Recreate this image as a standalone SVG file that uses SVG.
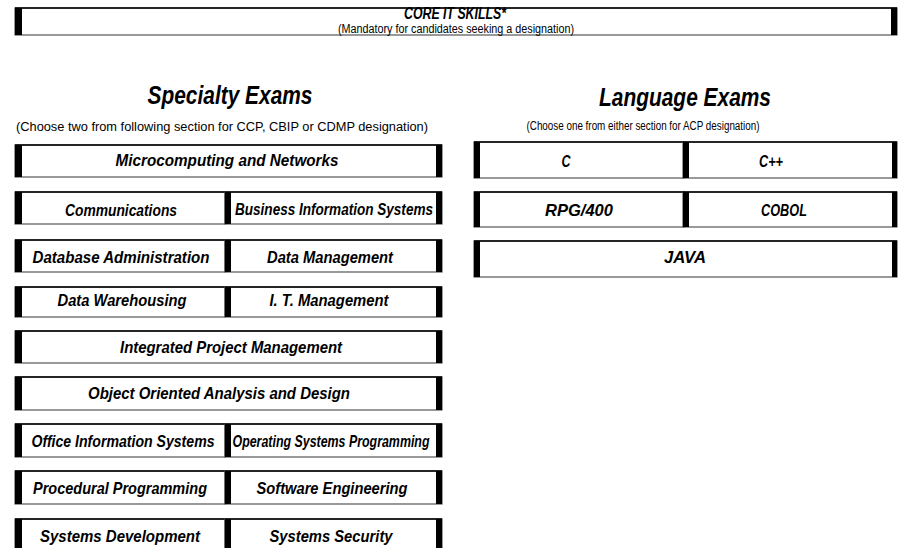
<svg xmlns="http://www.w3.org/2000/svg" width="900" height="548" viewBox="0 0 900 548">
<style>
.box{fill:#fff;stroke:#555;stroke-width:1.2}
.top{stroke:#000;stroke-width:1.4}
.bar{fill:#000}
.lbl{font-family:"Liberation Sans",Arial,sans-serif;font-weight:bold;font-style:italic;font-size:17px;fill:#000;text-anchor:middle}
.head{font-family:"Liberation Sans",Arial,sans-serif;font-weight:bold;font-style:italic;font-size:26px;fill:#000;text-anchor:middle}
.sub{font-family:"Liberation Sans",Arial,sans-serif;font-size:12.5px;fill:#000;text-anchor:middle}
</style>
<rect width="900" height="548" fill="#fff"/>

<g id="core">
<rect class="box" x="15" y="8" width="882" height="27"/>
<line class="top" x1="15" y1="8" x2="897" y2="8"/>
<rect class="bar" x="15" y="8" width="7" height="27"/>
<rect class="bar" x="891" y="8" width="6" height="27"/>
<text class="lbl" x="455" y="19" font-size="12.5" textLength="102" lengthAdjust="spacingAndGlyphs">CORE IT SKILLS*</text>
<text class="sub" x="456" y="32.5" font-size="10" textLength="236" lengthAdjust="spacingAndGlyphs">(Mandatory for candidates seeking a designation)</text>
</g>

<g id="specialty-header">
<text class="head" x="230" y="104" textLength="165" lengthAdjust="spacingAndGlyphs">Specialty Exams</text>
<text class="sub" x="222" y="131" textLength="412" lengthAdjust="spacingAndGlyphs">(Choose two from following section for CCP, CBIP or CDMP designation)</text>
</g>

<g id="language-header">
<text class="head" x="685" y="106" textLength="172" lengthAdjust="spacingAndGlyphs">Language Exams</text>
<text class="sub" x="643" y="130" textLength="233" lengthAdjust="spacingAndGlyphs">(Choose one from either section for ACP designation)</text>
</g>

<!-- Left column -->
<g id="microcomputing">
<rect class="box" x="15" y="145" width="427" height="32"/>
<line class="top" x1="15" y1="145" x2="442" y2="145"/>
<rect class="bar" x="15" y="145" width="7" height="32"/>
<rect class="bar" x="436" y="145" width="6" height="32"/>
<text class="lbl" x="227" y="166" textLength="223" lengthAdjust="spacingAndGlyphs">Microcomputing and Networks</text>
</g>

<g id="communications">
<rect class="box" x="15" y="192" width="210" height="32"/>
<line class="top" x1="15" y1="192" x2="225" y2="192"/>
<rect class="bar" x="15" y="192" width="7" height="32"/>
<text class="lbl" x="121" y="216" textLength="112" lengthAdjust="spacingAndGlyphs">Communications</text>
</g>
<g id="business-information-systems">
<rect class="box" x="225" y="192" width="217" height="32"/>
<line class="top" x1="225" y1="192" x2="442" y2="192"/>
<rect class="bar" x="225" y="192" width="6" height="32"/>
<rect class="bar" x="436" y="192" width="6" height="32"/>
<text class="lbl" x="334" y="215" textLength="198" lengthAdjust="spacingAndGlyphs">Business Information Systems</text>
</g>

<g id="database-administration">
<rect class="box" x="15" y="240" width="210" height="32"/>
<line class="top" x1="15" y1="240" x2="225" y2="240"/>
<rect class="bar" x="15" y="240" width="7" height="32"/>
<text class="lbl" x="121" y="263" textLength="177" lengthAdjust="spacingAndGlyphs">Database Administration</text>
</g>
<g id="data-management">
<rect class="box" x="225" y="240" width="217" height="32"/>
<line class="top" x1="225" y1="240" x2="442" y2="240"/>
<rect class="bar" x="225" y="240" width="6" height="32"/>
<rect class="bar" x="436" y="240" width="6" height="32"/>
<text class="lbl" x="330" y="263" textLength="126" lengthAdjust="spacingAndGlyphs">Data Management</text>
</g>

<g id="data-warehousing">
<rect class="box" x="15" y="287" width="210" height="30"/>
<line class="top" x1="15" y1="287" x2="225" y2="287"/>
<rect class="bar" x="15" y="287" width="7" height="30"/>
<text class="lbl" x="122" y="306" textLength="129" lengthAdjust="spacingAndGlyphs">Data Warehousing</text>
</g>
<g id="it-management">
<rect class="box" x="225" y="287" width="217" height="30"/>
<line class="top" x1="225" y1="287" x2="442" y2="287"/>
<rect class="bar" x="225" y="287" width="6" height="30"/>
<rect class="bar" x="436" y="287" width="6" height="30"/>
<text class="lbl" x="329" y="306" textLength="119" lengthAdjust="spacingAndGlyphs">I. T. Management</text>
</g>

<g id="integrated-project-management">
<rect class="box" x="15" y="331" width="427" height="32"/>
<line class="top" x1="15" y1="331" x2="442" y2="331"/>
<rect class="bar" x="15" y="331" width="7" height="32"/>
<rect class="bar" x="436" y="331" width="6" height="32"/>
<text class="lbl" x="231" y="353" textLength="222" lengthAdjust="spacingAndGlyphs">Integrated Project Management</text>
</g>

<g id="object-oriented-analysis">
<rect class="box" x="15" y="377" width="427" height="33"/>
<line class="top" x1="15" y1="377" x2="442" y2="377"/>
<rect class="bar" x="15" y="377" width="7" height="33"/>
<rect class="bar" x="436" y="377" width="6" height="33"/>
<text class="lbl" x="219" y="399" textLength="262" lengthAdjust="spacingAndGlyphs">Object Oriented Analysis and Design</text>
</g>

<g id="office-information-systems">
<rect class="box" x="15" y="424" width="210" height="33"/>
<line class="top" x1="15" y1="424" x2="225" y2="424"/>
<rect class="bar" x="15" y="424" width="7" height="33"/>
<text class="lbl" x="123" y="447" textLength="183" lengthAdjust="spacingAndGlyphs">Office Information Systems</text>
</g>
<g id="operating-systems-programming">
<rect class="box" x="225" y="424" width="217" height="33"/>
<line class="top" x1="225" y1="424" x2="442" y2="424"/>
<rect class="bar" x="225" y="424" width="6" height="33"/>
<rect class="bar" x="436" y="424" width="6" height="33"/>
<text class="lbl" x="331" y="447" textLength="197" lengthAdjust="spacingAndGlyphs">Operating Systems Programming</text>
</g>

<g id="procedural-programming">
<rect class="box" x="15" y="471" width="210" height="33"/>
<line class="top" x1="15" y1="471" x2="225" y2="471"/>
<rect class="bar" x="15" y="471" width="7" height="33"/>
<text class="lbl" x="120" y="494" textLength="174" lengthAdjust="spacingAndGlyphs">Procedural Programming</text>
</g>
<g id="software-engineering">
<rect class="box" x="225" y="471" width="217" height="33"/>
<line class="top" x1="225" y1="471" x2="442" y2="471"/>
<rect class="bar" x="225" y="471" width="6" height="33"/>
<rect class="bar" x="436" y="471" width="6" height="33"/>
<text class="lbl" x="332" y="494" textLength="151" lengthAdjust="spacingAndGlyphs">Software Engineering</text>
</g>

<g id="systems-development">
<rect class="box" x="15" y="519" width="210" height="33"/>
<line class="top" x1="15" y1="519" x2="225" y2="519"/>
<rect class="bar" x="15" y="519" width="7" height="33"/>
<text class="lbl" x="120" y="542" textLength="160" lengthAdjust="spacingAndGlyphs">Systems Development</text>
</g>
<g id="systems-security">
<rect class="box" x="225" y="519" width="217" height="33"/>
<line class="top" x1="225" y1="519" x2="442" y2="519"/>
<rect class="bar" x="225" y="519" width="6" height="33"/>
<rect class="bar" x="436" y="519" width="6" height="33"/>
<text class="lbl" x="331" y="542" textLength="123" lengthAdjust="spacingAndGlyphs">Systems Security</text>
</g>

<!-- Right column -->
<g id="c">
<rect class="box" x="474" y="142" width="210" height="36"/>
<line class="top" x1="474" y1="142" x2="684" y2="142"/>
<rect class="bar" x="474" y="142" width="6" height="36"/>
<text class="lbl" x="566" y="167" textLength="9" lengthAdjust="spacingAndGlyphs">C</text>
</g>
<g id="cpp">
<rect class="box" x="683" y="142" width="214" height="36"/>
<line class="top" x1="683" y1="142" x2="897" y2="142"/>
<rect class="bar" x="683" y="142" width="6" height="36"/>
<rect class="bar" x="892" y="142" width="5" height="36"/>
<text class="lbl" x="771" y="167" textLength="24" lengthAdjust="spacingAndGlyphs">C++</text>
</g>

<g id="rpg400">
<rect class="box" x="474" y="192" width="210" height="35"/>
<line class="top" x1="474" y1="192" x2="684" y2="192"/>
<rect class="bar" x="474" y="192" width="6" height="35"/>
<text class="lbl" x="579" y="216" textLength="68" lengthAdjust="spacingAndGlyphs">RPG/400</text>
</g>
<g id="cobol">
<rect class="box" x="683" y="192" width="214" height="35"/>
<line class="top" x1="683" y1="192" x2="897" y2="192"/>
<rect class="bar" x="683" y="192" width="6" height="35"/>
<rect class="bar" x="892" y="192" width="5" height="35"/>
<text class="lbl" x="784" y="216" textLength="46" lengthAdjust="spacingAndGlyphs">COBOL</text>
</g>

<g id="java">
<rect class="box" x="474" y="241" width="423" height="36"/>
<line class="top" x1="474" y1="241" x2="897" y2="241"/>
<rect class="bar" x="474" y="241" width="6" height="36"/>
<rect class="bar" x="892" y="241" width="5" height="36"/>
<text class="lbl" x="685" y="263" textLength="42" lengthAdjust="spacingAndGlyphs">JAVA</text>
</g>

<g id="connectors"></g>
</svg>
